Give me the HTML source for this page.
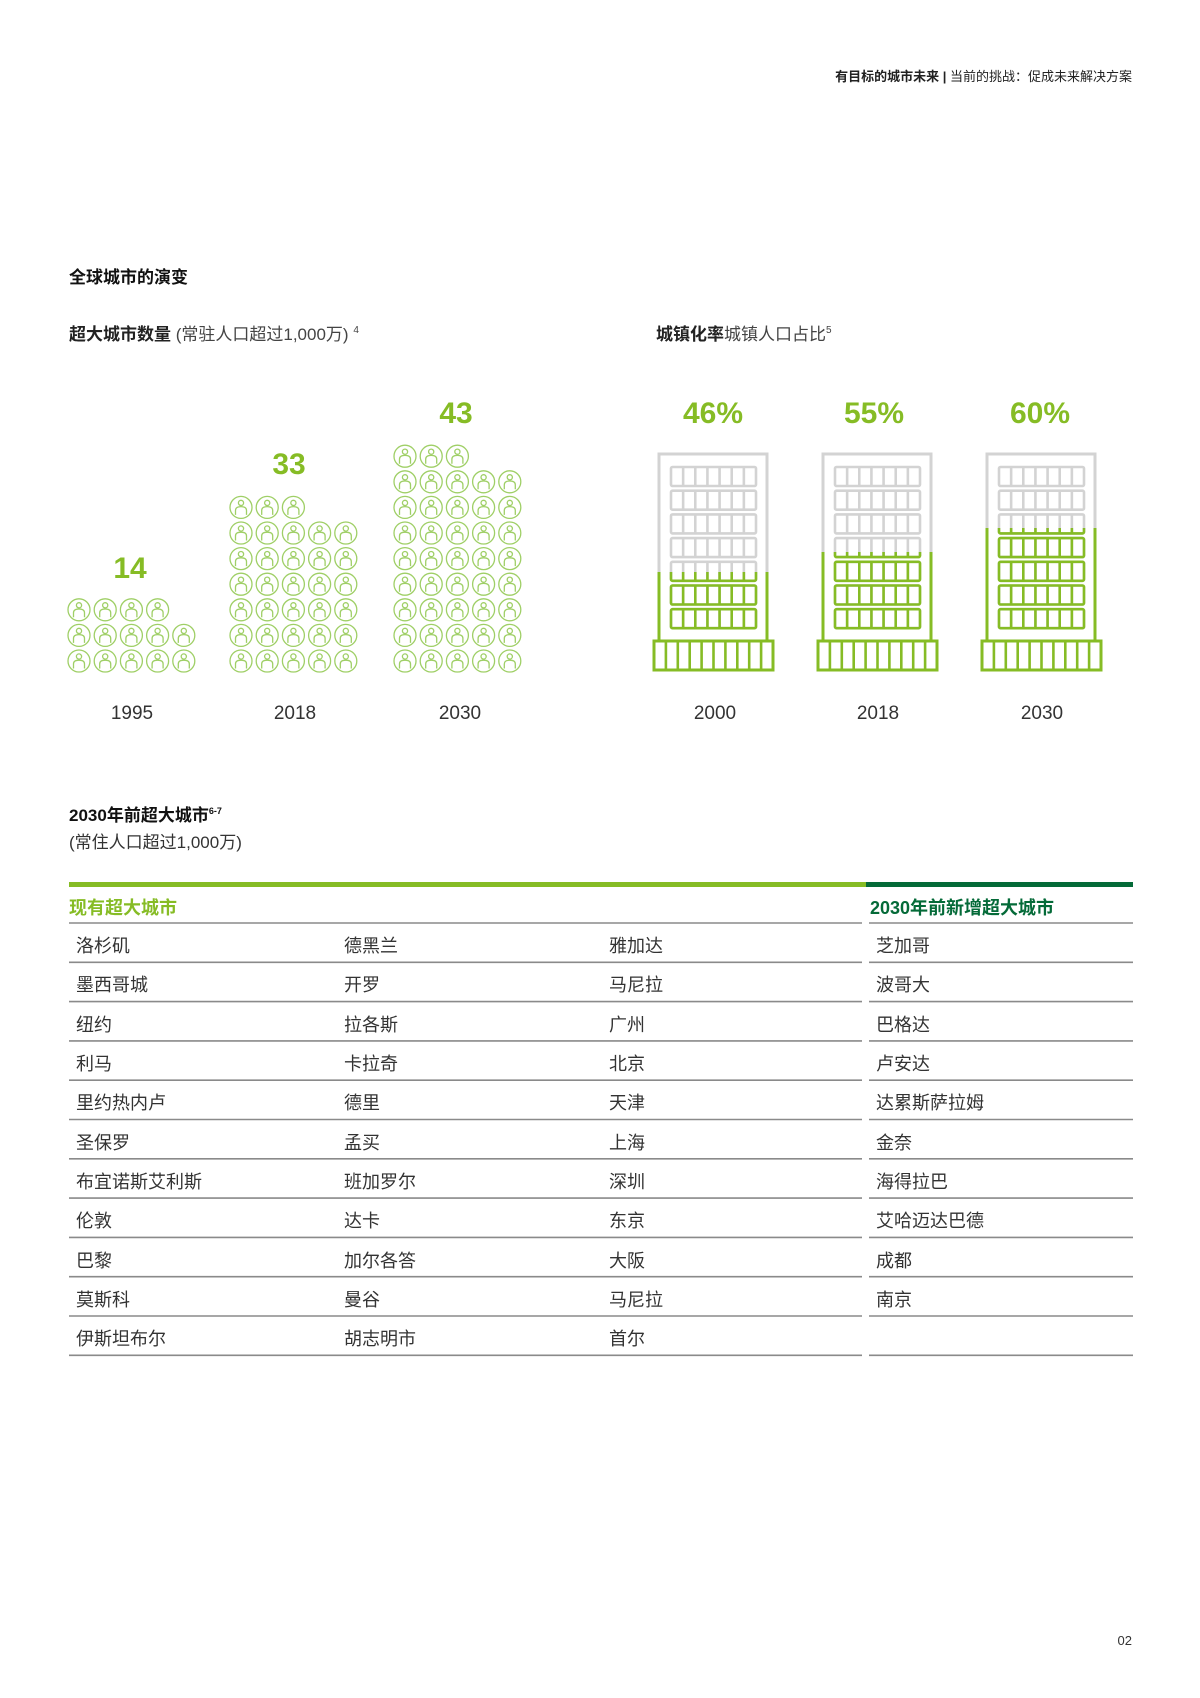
<!DOCTYPE html>
<html><head><meta charset="utf-8"><style>
html,body{margin:0;padding:0;background:#fff;}
svg{display:block;}
text{font-family:"Liberation Sans","Noto Sans CJK SC",sans-serif;}
</style></head><body>
<svg id="s" width="1200" height="1698" viewBox="0 0 1200 1698" xmlns="http://www.w3.org/2000/svg">
<defs>
<g id="p" fill="none" stroke="#9fcf66" stroke-width="1.3">
<circle r="11"/>
<circle cx="0" cy="-4.5" r="2.6"/>
<path d="M-5.5 7.5 V3 Q-5.5 -0.8 0 -0.8 Q5.5 -0.8 5.5 3 V7.5"/>
</g>
</defs>
<text x="1132" y="81" font-size="13" text-anchor="end" fill="#222"><tspan font-weight="bold">有目标的城市未来 | </tspan>当前的挑战：促成未来解决方案</text>
<text x="69" y="283" font-size="17" font-weight="bold" fill="#111">全球城市的演变</text>
<text x="69" y="340" font-size="17" fill="#444"><tspan font-weight="bold" fill="#222">超大城市数量</tspan> (常驻人口超过1,000万) <tspan font-size="10" dy="-7">4</tspan></text>
<text x="656" y="340" font-size="17" fill="#444"><tspan font-weight="bold" fill="#222">城镇化率</tspan>城镇人口占比<tspan font-size="10" dy="-7">5</tspan></text>
<g font-size="30" font-weight="bold" fill="#86bc25" text-anchor="middle">
<text x="130" y="578">14</text><text x="289" y="474">33</text><text x="456" y="423">43</text>
<text x="713" y="423">46%</text><text x="874" y="423">55%</text><text x="1040" y="423">60%</text>
</g>
<g font-size="19" fill="#333" text-anchor="middle">
<text x="132" y="719">1995</text><text x="295" y="719">2018</text><text x="460" y="719">2030</text>
<text x="715" y="719">2000</text><text x="878" y="719">2018</text><text x="1042" y="719">2030</text>
</g>
<g id="icons"></g>
<g id="bld"></g>
<text x="69" y="821" font-size="17" font-weight="bold" fill="#111">2030年前超大城市<tspan font-size="9" dy="-7">6-7</tspan></text>
<text x="69" y="848" font-size="17" fill="#333">(常住人口超过1,000万)</text>
<rect x="69" y="882" width="797" height="5" fill="#86bc25"/>
<rect x="866" y="882" width="267" height="5" fill="#046a38"/>
<text x="69" y="914" font-size="18" font-weight="bold" fill="#86bc25">现有超大城市</text>
<text x="870" y="914" font-size="18" font-weight="bold" fill="#046a38">2030年前新增超大城市</text>
<g id="lines"></g>
<g font-size="18" fill="#333" id="cells">
<text x="76" y="952">洛杉矶</text><text x="344" y="952">德黑兰</text><text x="609" y="952">雅加达</text><text x="876" y="952">芝加哥</text>
<text x="76" y="991">墨西哥城</text><text x="344" y="991">开罗</text><text x="609" y="991">马尼拉</text><text x="876" y="991">波哥大</text>
<text x="76" y="1031">纽约</text><text x="344" y="1031">拉各斯</text><text x="609" y="1031">广州</text><text x="876" y="1031">巴格达</text>
<text x="76" y="1070">利马</text><text x="344" y="1070">卡拉奇</text><text x="609" y="1070">北京</text><text x="876" y="1070">卢安达</text>
<text x="76" y="1109">里约热内卢</text><text x="344" y="1109">德里</text><text x="609" y="1109">天津</text><text x="876" y="1109">达累斯萨拉姆</text>
<text x="76" y="1149">圣保罗</text><text x="344" y="1149">孟买</text><text x="609" y="1149">上海</text><text x="876" y="1149">金奈</text>
<text x="76" y="1188">布宜诺斯艾利斯</text><text x="344" y="1188">班加罗尔</text><text x="609" y="1188">深圳</text><text x="876" y="1188">海得拉巴</text>
<text x="76" y="1227">伦敦</text><text x="344" y="1227">达卡</text><text x="609" y="1227">东京</text><text x="876" y="1227">艾哈迈达巴德</text>
<text x="76" y="1267">巴黎</text><text x="344" y="1267">加尔各答</text><text x="609" y="1267">大阪</text><text x="876" y="1267">成都</text>
<text x="76" y="1306">莫斯科</text><text x="344" y="1306">曼谷</text><text x="609" y="1306">马尼拉</text><text x="876" y="1306">南京</text>
<text x="76" y="1345">伊斯坦布尔</text><text x="344" y="1345">胡志明市</text><text x="609" y="1345">首尔</text>
</g>
<text x="1132" y="1645" font-size="13" text-anchor="end" fill="#333">02</text>
</svg>
<script>
var NS="http://www.w3.org/2000/svg";
function el(t,a,p){var e=document.createElementNS(NS,t);for(var k in a)e.setAttribute(k,a[k]);p.appendChild(e);return e;}
var ic=document.getElementById('icons');
function grid(x0,n,rows){var dx=26.2,dy=25.6,yb=661;var k=0;
 for(var r=0;r<rows;r++){var y=yb-r*dy;var cnt=Math.min(5,n-r*5);for(var c=0;c<cnt;c++){var u=el('use',{href:'#p',x:x0+c*dx,y:y},ic);u.setAttributeNS("http://www.w3.org/1999/xlink","xlink:href","#p");}}}
grid(79,14,3);grid(241,33,7);grid(405,43,9);
var b=document.getElementById('bld');
var defs=document.querySelector('defs');
function building(ox,level,id){
 var cp=el('clipPath',{id:id},defs);el('rect',{x:ox-20,y:level,width:160,height:300},cp);
 function draw(col,g){
  el('path',{d:'M'+(ox)+' 640 V454 H'+(ox+108)+' V640',fill:'none',stroke:col,'stroke-width':3},g);
  for(var r=0;r<7;r++){var y=467+r*23.7;
   el('rect',{x:ox+12,y:y,width:85,height:19,rx:1.5,fill:'none',stroke:col,'stroke-width':2.6},g);
   for(var c=1;c<7;c++){var x=ox+12+c*85/7;el('line',{x1:x,y1:y,x2:x,y2:y+19,stroke:col,'stroke-width':2.6},g);}
  }}
 var g1=el('g',{},b);draw('#d3d3d3',g1);
 var g2=el('g',{'clip-path':'url(#'+id+')'},b);draw('#86bc25',g2);
 el('rect',{x:ox-5,y:641,width:119,height:29,fill:'none',stroke:'#86bc25','stroke-width':3},b);
 for(var c=1;c<10;c++){var x=ox-5+c*119/10;el('line',{x1:x,y1:641,x2:x,y2:670,stroke:'#86bc25','stroke-width':2.6},b);}
}
building(659,572,'c1');building(823,552,'c2');building(987,528,'c3');
var L=document.getElementById('lines');
for(var i=0;i<12;i++){var y=923+i*39.3;
 el('line',{x1:69,y1:y,x2:862,y2:y,stroke:'#8a8a8a','stroke-width':1.6},L);
 el('line',{x1:869,y1:y,x2:1133,y2:y,stroke:'#8a8a8a','stroke-width':1.6},L);}
</script>
</body></html>
